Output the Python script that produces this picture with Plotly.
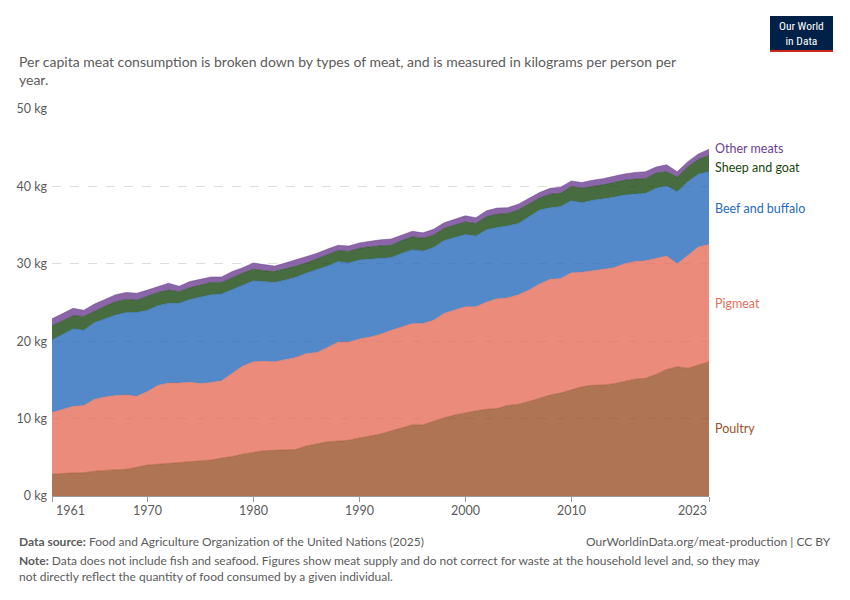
import plotly.graph_objects as go

# page body has an 8px margin, so every pixel position is taken 8px up/left
OFF = 8
W, H = 850 - 2 * OFF, 600 - 2 * OFF
# plot area in pixels (reference coordinates)
L, R, T, B = 52, 709, 109, 496

years = list(range(1961, 2024))

poultry = [2.8, 2.9, 3.0, 3.0, 3.2, 3.3, 3.4, 3.45, 3.7, 4.0,
           4.1, 4.2, 4.35, 4.4, 4.5, 4.65, 4.9, 5.1, 5.4, 5.65,
           5.85, 5.9, 5.95, 6.0, 6.45, 6.7, 7.0, 7.1, 7.2, 7.5,
           7.75, 8.0, 8.4, 8.75, 9.2, 9.2, 9.7, 10.1, 10.45, 10.75,
           11.0, 11.2, 11.3, 11.7, 11.85, 12.2, 12.6, 13.05, 13.3, 13.7,
           14.1, 14.3, 14.35, 14.5, 14.8, 15.1, 15.2, 15.7, 16.35, 16.7,
           16.5, 16.9, 17.35]
pigmeat = [8.0, 8.3, 8.6, 8.7, 9.3, 9.5, 9.6, 9.6, 9.2, 9.5,
           10.2, 10.4, 10.25, 10.3, 10.05, 10.0, 10.0, 10.75, 11.4, 11.7,
           11.55, 11.45, 11.65, 11.9, 11.95, 11.85, 12.2, 12.8, 12.7, 12.8,
           12.8, 12.9, 13.0, 13.15, 13.1, 13.1, 13.0, 13.5, 13.55, 13.7,
           13.45, 13.85, 14.2, 13.9, 14.15, 14.4, 14.8, 14.95, 14.8, 15.15,
           14.8, 14.8, 14.95, 15.0, 15.2, 15.2, 15.2, 15.0, 14.65, 13.3,
           14.6, 15.3, 15.15]
beef = [9.35, 9.7, 10.0, 9.7, 9.9, 10.1, 10.4, 10.65, 10.8, 10.5,
        10.3, 10.3, 10.3, 10.7, 11.2, 11.35, 11.2, 10.85, 10.5, 10.45,
        10.3, 10.25, 10.3, 10.35, 10.4, 10.65, 10.5, 10.4, 10.2, 10.2,
        10.05, 9.8, 9.4, 9.45, 9.5, 9.35, 9.4, 9.4, 9.4, 9.35,
        9.15, 9.35, 9.2, 9.3, 9.2, 9.5, 9.55, 9.25, 9.3, 9.3,
        9.0, 9.1, 9.1, 9.1, 8.9, 8.7, 8.7, 9.05, 9.05, 9.3,
        9.5, 9.4, 9.4]
sheep_goat = [1.85, 1.8, 1.7, 1.8, 1.5, 1.6, 1.7, 1.7, 1.6, 1.75,
              1.7, 1.7, 1.5, 1.5, 1.55, 1.6, 1.5, 1.55, 1.5, 1.5,
              1.4, 1.4, 1.5, 1.45, 1.3, 1.4, 1.4, 1.4, 1.5, 1.5,
              1.6, 1.6, 1.6, 1.65, 1.7, 1.65, 1.6, 1.6, 1.6, 1.6,
              1.6, 1.7, 1.7, 1.6, 1.75, 1.6, 1.55, 1.75, 1.7, 1.85,
              1.85, 1.8, 1.8, 1.9, 1.9, 1.95, 1.9, 1.95, 1.85, 1.9,
              1.9, 1.9, 2.1]
other_meats = [0.9, 0.9, 0.95, 0.8, 0.9, 0.9, 0.9, 0.9, 0.9, 0.85,
               0.8, 0.9, 0.7, 0.8, 0.7, 0.7, 0.7, 0.75, 0.7, 0.8,
               0.8, 0.7, 0.7, 0.8, 0.8, 0.75, 0.8, 0.7, 0.7, 0.7,
               0.7, 0.8, 0.8, 0.7, 0.7, 0.7, 0.75, 0.7, 0.75, 0.8,
               0.75, 0.75, 0.8, 0.75, 0.75, 0.8, 0.7, 0.75, 0.8, 0.7,
               0.75, 0.8, 0.8, 0.8, 0.8, 0.85, 0.9, 0.8, 0.9, 0.7,
               0.7, 0.7, 0.8]

series = [
    ("Poultry", poultry, (154, 81, 41)),
    ("Pigmeat", pigmeat, (229, 110, 90)),
    ("Beef and buffalo", beef, (40, 107, 187)),
    ("Sheep and goat", sheep_goat, (24, 71, 15)),
    ("Other meats", other_meats, (109, 62, 145)),
]

xtick_vals = [1961, 1970, 1980, 1990, 2000, 2010, 2023]
ytick_vals = [0, 10, 20, 30, 40, 50]
ytick_text = [f"{v} kg" for v in ytick_vals]

FONT = "Lato, 'Open Sans', sans-serif"
GREY = "#5b5b5b"


def px(x):
    return (x - L) / (R - L)


def py(y):
    return (B - y) / (B - T)


fig = go.Figure()
for name, vals, (r, g, b) in series:
    fig.add_trace(go.Scatter(
        x=years, y=vals, name=name, mode="lines",
        stackgroup="one",
        line=dict(width=0.6, color=f"rgba({r},{g},{b},0.8)"),
        fillcolor=f"rgba({r},{g},{b},0.8)",
    ))

# end labels, placed at the middle of each band in the last year
annotations = []
base = 0
label_shift = {"Sheep and goat": -4, "Other meats": 4}
for name, vals, (r, g, b) in series:
    mid = base + vals[-1] / 2
    base += vals[-1]
    annotations.append(dict(
        x=years[-1], y=mid, xref="x", yref="y", text=name, showarrow=False,
        xanchor="left", yanchor="middle", xshift=4, yshift=label_shift.get(name, 0),
        font=dict(size=12.5, color=f"rgb({r},{g},{b})", family=FONT),
    ))

# x tick labels: first one starts at its tick, last one ends at its tick
for v in xtick_vals:
    anchor = "left" if v == xtick_vals[0] else "right" if v == xtick_vals[-1] else "center"
    annotations.append(dict(
        x=v, y=py(510), xref="x", yref="paper", text=str(v), showarrow=False,
        xanchor=anchor, yanchor="middle", xshift=2 if anchor == "left" else 0,
        font=dict(size=12.5, color=GREY, family=FONT),
    ))

annotations += [
    dict(x=px(17), y=py(70), xref="paper", yref="paper", xanchor="left", yanchor="middle",
         showarrow=False, align="left",
         text="Per capita meat consumption is broken down by types of meat, and is measured in kilograms per person per<br>year.",
         font=dict(size=14, color=GREY, family=FONT)),
    dict(x=px(801.5), y=py(33), xref="paper", yref="paper", xanchor="center", yanchor="middle",
         showarrow=False, text="Our World<br>in Data",
         font=dict(size=11.5, color="white", family="'Roboto Condensed', Roboto, sans-serif")),
    dict(x=px(17), y=py(541), xref="paper", yref="paper", xanchor="left", yanchor="middle",
         showarrow=False,
         text="<b>Data source:</b> Food and Agriculture Organization of the United Nations (2025)",
         font=dict(size=12, color=GREY, family=FONT)),
    dict(x=px(833), y=py(541), xref="paper", yref="paper", xanchor="right", yanchor="middle",
         showarrow=False, text="OurWorldinData.org/meat-production | CC BY",
         font=dict(size=12, color=GREY, family=FONT)),
    dict(x=px(17), y=py(568), xref="paper", yref="paper", xanchor="left", yanchor="middle",
         showarrow=False, align="left",
         text="<b>Note:</b> Data does not include fish and seafood. Figures show meat supply and do not correct for waste at the household level and, so they may<br>not directly reflect the quantity of food consumed by a given individual.",
         font=dict(size=12, color=GREY, family=FONT)),
]

shapes = [
    dict(type="rect", xref="paper", yref="paper", x0=px(770), x1=px(833), y0=py(50), y1=py(16),
         fillcolor="#002147", line=dict(width=0), layer="above"),
    dict(type="rect", xref="paper", yref="paper", x0=px(770), x1=px(833), y0=py(52), y1=py(50),
         fillcolor="#ce261e", line=dict(width=0), layer="above"),
]

fig.update_layout(
    width=W, height=H,
    margin=dict(l=L - OFF, r=W - (R - OFF), t=T - OFF, b=H - (B - OFF)),
    paper_bgcolor="white", plot_bgcolor="white",
    showlegend=False,
    font=dict(family=FONT, size=12.5, color=GREY),
    annotations=annotations,
    shapes=shapes,
    xaxis=dict(
        range=[1961, 2023], tickvals=xtick_vals, ticks="outside", ticklen=5,
        tickcolor="#999", showline=True, linecolor="#999", showgrid=False,
        zeroline=False, showticklabels=False, automargin=False,
    ),
    yaxis=dict(
        range=[0, 50], tickvals=ytick_vals, ticktext=ytick_text, showgrid=True,
        gridcolor="#dddddd", griddash="dash", zeroline=False, showline=False,
        ticklabelstandoff=4, automargin=False, tickfont=dict(size=12.5, color=GREY),
    ),
)

fig.write_html("out.html")
